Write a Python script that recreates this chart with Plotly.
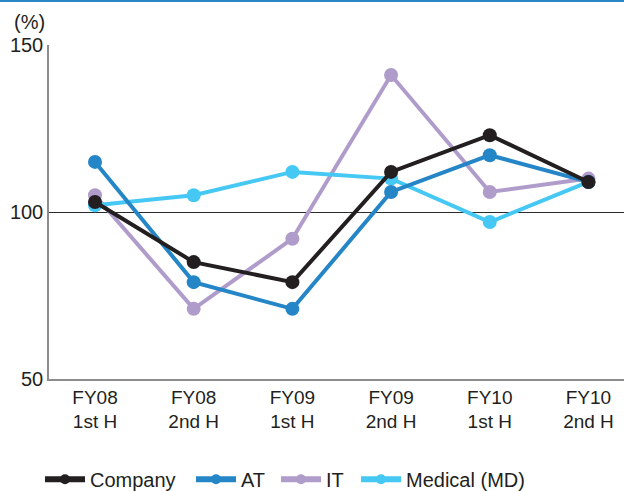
import plotly.graph_objects as go

# Half-year periods and index values (%)
periods = ["FY08<br>1st H", "FY08<br>2nd H", "FY09<br>1st H",
           "FY09<br>2nd H", "FY10<br>1st H", "FY10<br>2nd H"]
company = [103, 85, 79, 112, 123, 109]
at = [115, 79, 71, 106, 117, 109]
it = [105, 71, 92, 141, 106, 110]
medical = [102, 105, 112, 110, 97, 109]

y_ticks = [50, 100, 150]

series = [
    ("Company", company, "#231f20"),
    ("AT", at, "#2586c7"),
    ("IT", it, "#b09ccb"),
    ("Medical (MD)", medical, "#45c8f3"),
]
draw_order = ["IT", "Medical (MD)", "AT", "Company"]

FONT = "Liberation Sans, Arial, sans-serif"
TEXT = "#231f20"

fig = go.Figure()
idx = list(range(len(periods)))
lookup = {name: (vals, color) for name, vals, color in series}

# Plotted lines (legend handled by the entries below)
for name in draw_order:
    vals, color = lookup[name]
    fig.add_trace(go.Scatter(
        x=idx, y=vals, mode="lines+markers", name=name, showlegend=False,
        line=dict(color=color, width=4),
        marker=dict(color=color, size=14),
    ))

# One legend box per series, laid out in a row along the bottom
legend_ids = ["legend", "legend2", "legend3", "legend4"]
legend_x = [40 / 624, 191 / 624, 276 / 624, 356 / 624]
legend_layout = {}
for (name, vals, color), lid, lx in zip(series, legend_ids, legend_x):
    fig.add_trace(go.Scatter(
        x=[None], y=[None], mode="lines+markers", name=name, legend=lid,
        line=dict(color=color, width=6),
        marker=dict(color=color, size=10),
    ))
    legend_layout[lid] = dict(
        orientation="h", xref="container", yref="container",
        x=lx, y=0.024, xanchor="left", yanchor="middle",
        font=dict(size=20, color=TEXT), itemwidth=40,
        bgcolor="rgba(0,0,0,0)",
    )

fig.update_layout(
    width=624, height=491,
    margin=dict(l=49, r=0, t=45, b=112),
    paper_bgcolor="white", plot_bgcolor="white",
    font=dict(family=FONT, size=19, color=TEXT),
    showlegend=True,
    xaxis=dict(
        range=[-0.466, 5.36], tickmode="array", tickvals=idx, ticktext=periods,
        showgrid=False, zeroline=False, showline=True, linecolor="#8c8c8c",
        linewidth=1.5, ticks="", tickfont=dict(size=19, color=TEXT),
        fixedrange=True,
    ),
    yaxis=dict(
        range=[50, 150], tickmode="array", tickvals=y_ticks,
        showgrid=True, gridcolor="#2b2b2b", gridwidth=1.3, zeroline=False,
        showline=True, linecolor="#8c8c8c", linewidth=1.5, ticks="",
        tickfont=dict(size=20, color=TEXT), fixedrange=True,
    ),
    shapes=[dict(
        type="rect", xref="paper", yref="paper",
        x0=-49 / 575, x1=1.0, y0=1 + 43 / 334, y1=1 + 46 / 334,
        fillcolor="#2a86c4", line=dict(width=0), layer="above",
    )],
    annotations=[dict(
        text="(%)", xref="paper", yref="paper", x=-37 / 575, y=1.069,
        xanchor="left", yanchor="middle", showarrow=False,
        font=dict(size=20, color=TEXT),
    )],
    **legend_layout,
)

fig.write_html("out.html")
